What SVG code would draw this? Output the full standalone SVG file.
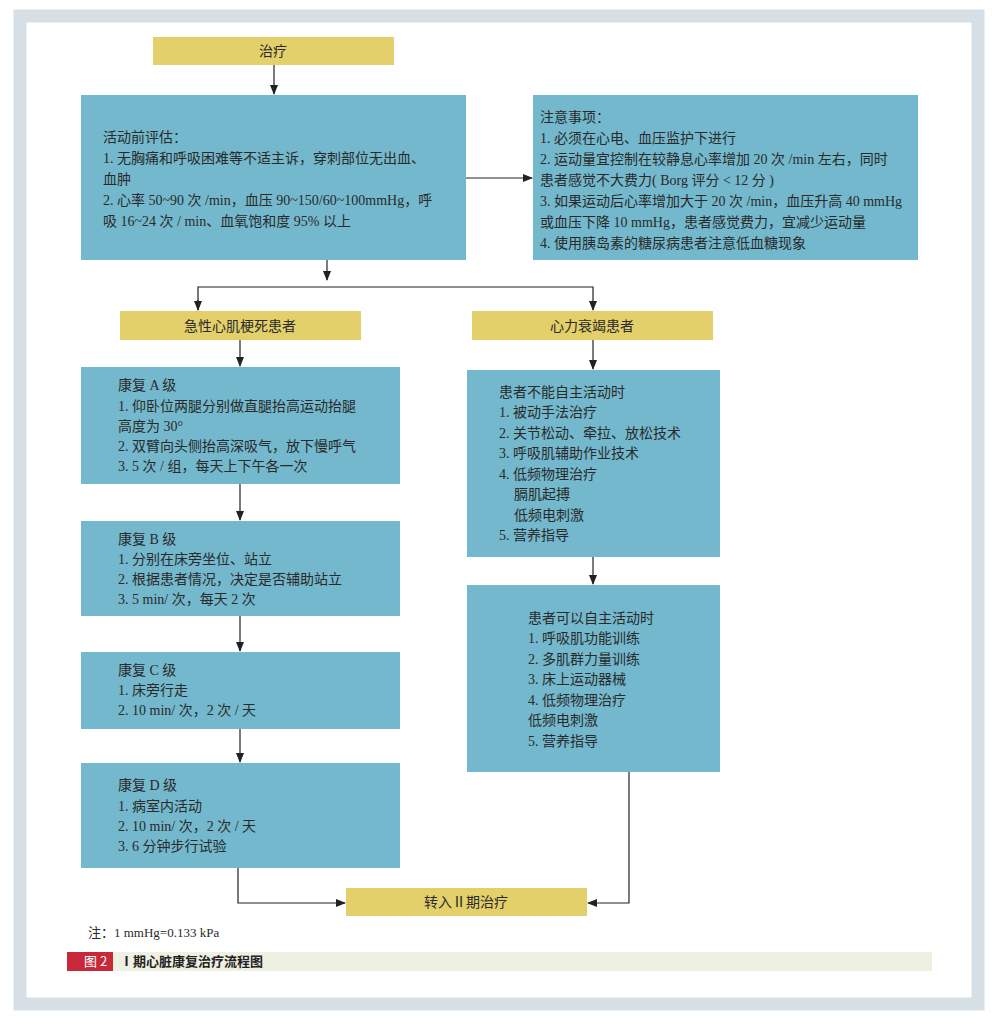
<svg xmlns="http://www.w3.org/2000/svg" width="992" height="1024" viewBox="0 0 992 1024">
<defs>
<marker id="ah" markerWidth="10" markerHeight="8" refX="9" refY="4" orient="auto" markerUnits="userSpaceOnUse"><path d="M0,0 L10,4 L0,8 Z" fill="#222"/></marker>
<style>
.t{fill:#73b8cc}.y{fill:#e3d06a}
text{font-family:"Liberation Serif","Noto Sans CJK SC",serif;font-size:14px;fill:#2a2a2a}
.c{text-anchor:middle}
.ln{fill:none;stroke:#222;stroke-width:1.2}
</style>
</defs>
<rect x="0" y="0" width="992" height="1024" fill="#fff"/>
<rect x="20" y="16" width="958" height="988" fill="none" stroke="#d5dfe5" stroke-width="13"/>
<g id="n-zl"><rect class="y" x="153" y="37" width="241" height="28"/><text class="c" x="273" y="56">治疗</text></g>
<g id="n-eval"><rect class="t" x="81" y="95" width="385" height="165"/>
<text x="103" y="142">活动前评估：</text><text x="103" y="163">1. 无胸痛和呼吸困难等不适主诉，穿刺部位无出血、</text><text x="103" y="184">血肿</text><text x="103" y="205">2. 心率 50~90 次 /min，血压 90~150/60~100mmHg，呼</text><text x="103" y="226">吸 16~24 次 / min、血氧饱和度 95% 以上</text></g>
<g id="n-note"><rect class="t" x="533" y="95" width="385" height="165"/>
<text x="540" y="122">注意事项：</text><text x="540" y="143">1. 必须在心电、血压监护下进行</text><text x="540" y="164">2. 运动量宜控制在较静息心率增加 20 次 /min 左右，同时</text><text x="540" y="185">患者感觉不大费力( Borg 评分 &lt; 12 分 )</text><text x="540" y="206">3. 如果运动后心率增加大于 20 次 /min，血压升高 40 mmHg</text><text x="540" y="227">或血压下降 10 mmHg，患者感觉费力，宜减少运动量</text><text x="540" y="248">4. 使用胰岛素的糖尿病患者注意低血糖现象</text></g>
<g id="n-ami"><rect class="y" x="120" y="311" width="241" height="29"/><text class="c" x="240" y="331">急性心肌梗死患者</text></g>
<g id="n-hf"><rect class="y" x="472" y="311" width="241" height="29"/><text class="c" x="592" y="331">心力衰竭患者</text></g>
<g id="n-a"><rect class="t" x="81" y="367" width="319" height="117"/>
<text x="118" y="390">康复 A 级</text><text x="118" y="411">1. 仰卧位两腿分别做直腿抬高运动抬腿</text><text x="118" y="431">高度为 30°</text><text x="118" y="451">2. 双臂向头侧抬高深吸气，放下慢呼气</text><text x="118" y="471">3.  5 次 / 组，每天上下午各一次</text></g>
<g id="n-b"><rect class="t" x="81" y="521" width="319" height="95"/>
<text x="118" y="544">康复 B 级</text><text x="118" y="564">1. 分别在床旁坐位、站立</text><text x="118" y="584">2. 根据患者情况，决定是否辅助站立</text><text x="118" y="604">3. 5 min/ 次，每天 2 次</text></g>
<g id="n-c"><rect class="t" x="81" y="652" width="319" height="77"/>
<text x="118" y="675">康复 C 级</text><text x="118" y="695">1. 床旁行走</text><text x="118" y="715">2. 10 min/ 次，2 次 / 天</text></g>
<g id="n-d"><rect class="t" x="81" y="763" width="319" height="105"/>
<text x="118" y="790">康复 D 级</text><text x="118" y="811">1. 病室内活动</text><text x="118" y="831">2. 10 min/ 次，2 次 / 天</text><text x="118" y="851">3. 6 分钟步行试验</text></g>
<g id="n-hf1"><rect class="t" x="467" y="370" width="253" height="187"/>
<text x="499" y="397">患者不能自主活动时</text><text x="499" y="417">1. 被动手法治疗</text><text x="499" y="438">2. 关节松动、牵拉、放松技术</text><text x="499" y="458">3. 呼吸肌辅助作业技术</text><text x="499" y="479">4. 低频物理治疗</text><text x="514" y="499">膈肌起搏</text><text x="514" y="520">低频电刺激</text><text x="499" y="540">5. 营养指导</text></g>
<g id="n-hf2"><rect class="t" x="467" y="585" width="253" height="187"/>
<text x="528" y="623">患者可以自主活动时</text><text x="528" y="643">1. 呼吸肌功能训练</text><text x="528" y="664">2. 多肌群力量训练</text><text x="528" y="684">3. 床上运动器械</text><text x="528" y="705">4. 低频物理治疗</text><text x="528" y="725">低频电刺激</text><text x="528" y="746">5. 营养指导</text></g>
<g id="n-end"><rect class="y" x="346" y="888" width="241" height="28"/><text class="c" x="466" y="907">转入Ⅱ期治疗</text></g>
<g id="connectors">
<path class="ln" d="M274,65 V94" marker-end="url(#ah)"/>
<path class="ln" d="M466,178 H532" marker-end="url(#ah)"/>
<path class="ln" d="M327,260 V280" marker-end="url(#ah)"/>
<path class="ln" d="M198,310 V287 H593 V310" marker-end="url(#ah)"/>
<path class="ln" d="M198,300 V310" marker-end="url(#ah)"/>
<path class="ln" d="M240,340 V366" marker-end="url(#ah)"/>
<path class="ln" d="M240,484 V520" marker-end="url(#ah)"/>
<path class="ln" d="M240,616 V651" marker-end="url(#ah)"/>
<path class="ln" d="M240,729 V762" marker-end="url(#ah)"/>
<path class="ln" d="M593,340 V369" marker-end="url(#ah)"/>
<path class="ln" d="M593,557 V584" marker-end="url(#ah)"/>
<path class="ln" d="M238,868 V903 H345" marker-end="url(#ah)"/>
<path class="ln" d="M629,772 V903 H588" marker-end="url(#ah)"/>
</g>
<text x="88" y="937" style="font-size:13px">注：1 mmHg=0.133 kPa</text>
<rect x="67" y="952" width="46" height="19" fill="#c8283a"/>
<rect x="113" y="952" width="819" height="19" fill="#eef0e2"/>
<text x="84" y="966" style="font-family:'Noto Sans CJK SC',sans-serif;font-size:13px;fill:#fff">图 2</text>
<text x="120" y="966" style="font-family:'Noto Sans CJK SC',sans-serif;font-size:13px;font-weight:bold;fill:#222">Ⅰ期心脏康复治疗流程图</text>
</svg>
